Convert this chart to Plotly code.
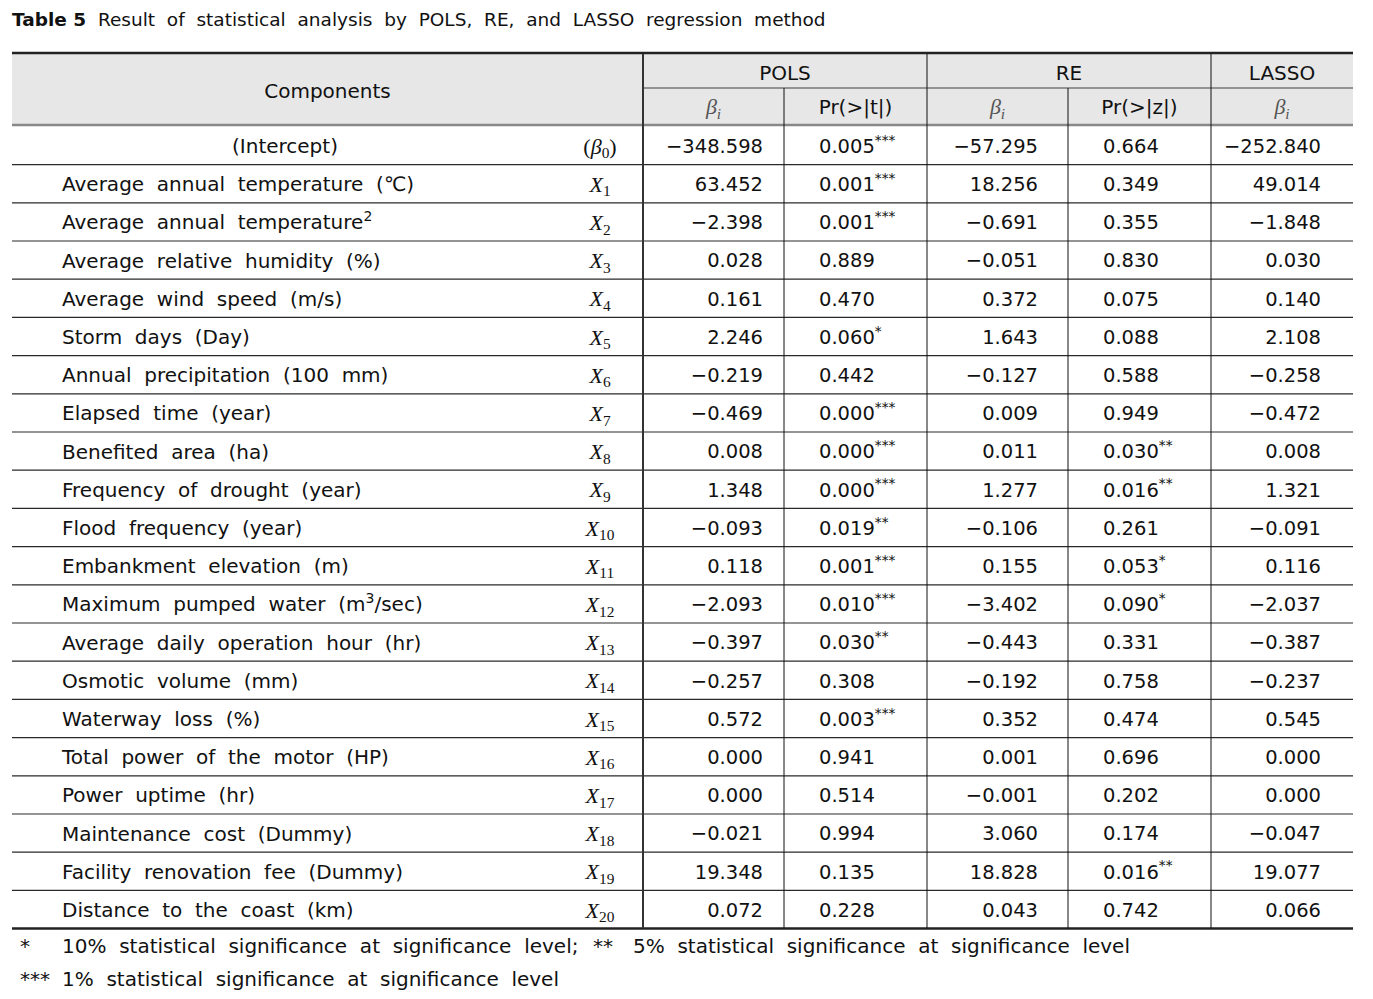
import plotly.graph_objects as go

# ---------------- data ----------------
title_bold = "Table 5"
title_rest = "Result of statistical analysis by POLS, RE, and LASSO regression method"

components = [
    "(Intercept)",
    "Average annual temperature (℃)",
    "Average annual temperature<sup>2</sup>",
    "Average relative humidity (%)",
    "Average wind speed (m/s)",
    "Storm days (Day)",
    "Annual precipitation (100 mm)",
    "Elapsed time (year)",
    "Benefited area (ha)",
    "Frequency of drought (year)",
    "Flood frequency (year)",
    "Embankment elevation (m)",
    "Maximum pumped water (m<sup>3</sup>/sec)",
    "Average daily operation hour (hr)",
    "Osmotic volume (mm)",
    "Waterway loss (%)",
    "Total power of the motor (HP)",
    "Power uptime (hr)",
    "Maintenance cost (Dummy)",
    "Facility renovation fee (Dummy)",
    "Distance to the coast (km)",
]
symbol_base = ["β"] + ["X"] * 20
symbol_sub = [str(i) for i in range(0, 21)]

pols_beta = [-348.598, 63.452, -2.398, 0.028, 0.161, 2.246, -0.219, -0.469, 0.008, 1.348,
             -0.093, 0.118, -2.093, -0.397, -0.257, 0.572, 0.000, 0.000, -0.021, 19.348, 0.072]
pols_p = [0.005, 0.001, 0.001, 0.889, 0.470, 0.060, 0.442, 0.000, 0.000, 0.000,
          0.019, 0.001, 0.010, 0.030, 0.308, 0.003, 0.941, 0.514, 0.994, 0.135, 0.228]
pols_sig = ["***", "***", "***", "", "", "*", "", "***", "***", "***",
            "**", "***", "***", "**", "", "***", "", "", "", "", ""]
re_beta = [-57.295, 18.256, -0.691, -0.051, 0.372, 1.643, -0.127, 0.009, 0.011, 1.277,
           -0.106, 0.155, -3.402, -0.443, -0.192, 0.352, 0.001, -0.001, 3.060, 18.828, 0.043]
re_p = [0.664, 0.349, 0.355, 0.830, 0.075, 0.088, 0.588, 0.949, 0.030, 0.016,
        0.261, 0.053, 0.090, 0.331, 0.758, 0.474, 0.696, 0.202, 0.174, 0.016, 0.742]
re_sig = ["", "", "", "", "", "", "", "", "**", "**",
          "", "*", "*", "", "", "", "", "", "", "**", ""]
lasso_beta = [-252.840, 49.014, -1.848, 0.030, 0.140, 2.108, -0.258, -0.472, 0.008, 1.321,
              -0.091, 0.116, -2.037, -0.387, -0.237, 0.545, 0.000, 0.000, -0.047, 19.077, 0.066]

group_headers = ["POLS", "RE", "LASSO"]
sub_headers = ["<i>β</i><sub><i>i</i></sub>", "Pr(>|t|)", "<i>β</i><sub><i>i</i></sub>",
               "Pr(>|z|)", "<i>β</i><sub><i>i</i></sub>"]
footnote_marks = ["*", "**", "***"]
footnote_texts = ["10% statistical significance at significance level;",
                  "5% statistical significance at significance level",
                  "1% statistical significance at significance level"]

# ---------------- layout constants ----------------
W, H = 1373, 999
SANS = "DejaVu Sans"
SERIF = "Liberation Serif"
FS = 20
FS_NUM = 19.5
INK = "#111111"
DY = 2.5  # text baseline nudge

X_L, X_C, X_P2, X_R, X_R2, X_LA, X_E = 12, 643, 784, 927, 1068, 1211, 1353
Y_TOP, Y_SUB, Y_HEAD_END = 53, 88, 125
Y0, PITCH = 145.5, 38.2
n = len(components)
row_y = [Y0 + i * PITCH for i in range(n)]
text_y = [y + DY for y in row_y]
Y_BOT = Y0 + (n - 0.5) * PITCH


def fmt(v):
    return f"{v:.3f}".replace("-", "−")


def wide(s):
    # typeset-style wide word spacing
    return s.replace(" ", "\u00a0 ")


fig = go.Figure()


def add_text(xs, ys, texts, pos, family=SANS, size=FS, color=INK):
    fig.add_trace(go.Scatter(
        x=xs, y=ys, text=texts, mode="text", textposition=pos,
        textfont=dict(family=family, size=size, color=color),
        hoverinfo="skip", showlegend=False, cliponaxis=False))


# header background
fig.add_shape(type="rect", x0=X_L, x1=X_E, y0=Y_TOP + 1, y1=Y_HEAD_END,
              fillcolor="#e7e7e7", line_width=0, layer="below")

# horizontal rules
fig.add_shape(type="line", x0=X_L, x1=X_E, y0=Y_TOP, y1=Y_TOP, line=dict(color="#222", width=2.5))
fig.add_shape(type="line", x0=X_C, x1=X_E, y0=Y_SUB, y1=Y_SUB, line=dict(color="#777", width=1.5))
fig.add_shape(type="line", x0=X_L, x1=X_E, y0=Y_HEAD_END, y1=Y_HEAD_END, line=dict(color="#888", width=2.5))
for i in range(n - 1):
    yy = row_y[i] + PITCH / 2
    fig.add_shape(type="line", x0=X_L, x1=X_E, y0=yy, y1=yy, line=dict(color="#2a2a2a", width=1.2))
fig.add_shape(type="line", x0=X_L, x1=X_E, y0=Y_BOT, y1=Y_BOT, line=dict(color="#222", width=2.5))

# vertical rules
fig.add_shape(type="line", x0=X_C, x1=X_C, y0=Y_TOP + 1, y1=Y_BOT, line=dict(color="#333", width=2))
for xx in (X_R, X_LA):
    fig.add_shape(type="line", x0=xx, x1=xx, y0=Y_TOP + 1, y1=Y_BOT, line=dict(color="#111", width=1))
for xx in (X_P2, X_R2):
    fig.add_shape(type="line", x0=xx, x1=xx, y0=Y_SUB, y1=Y_BOT, line=dict(color="#111", width=1))

# title
add_text([X_L], [19 + DY - 0.5], [f"<b>{title_bold}</b>\u00a0 {wide(title_rest)}"], "middle right", size=18.5)

# header texts
add_text([(X_L + X_C) / 2], [(Y_TOP + Y_HEAD_END) / 2 + 1 + DY], ["Components"], "middle center")
add_text([(X_C + X_R) / 2, (X_R + X_LA) / 2, (X_LA + X_E) / 2], [72 + DY] * 3, group_headers, "middle center")
sub_x = [(X_C + X_P2) / 2, (X_P2 + X_R) / 2, (X_R + X_R2) / 2, (X_R2 + X_LA) / 2, (X_LA + X_E) / 2]
beta_idx = [0, 2, 4]
pr_idx = [1, 3]
add_text([sub_x[i] for i in beta_idx], [106 + DY] * 3, [sub_headers[i] for i in beta_idx], "middle center",
         family=SERIF, size=22, color="#555")
add_text([sub_x[i] for i in pr_idx], [106 + DY] * 2, [sub_headers[i] for i in pr_idx], "middle center")

# component labels
add_text([285], [text_y[0]], [components[0]], "middle center")
add_text([62] * (n - 1), text_y[1:], [wide(c) for c in components[1:]], "middle right")

# symbols
sym_txt = [f"<i>{b}</i><sub>{s}</sub>" for b, s in zip(symbol_base, symbol_sub)]
sym_txt[0] = "(" + sym_txt[0] + ")"
add_text([600] * n, text_y, sym_txt, "middle center", family=SERIF, size=22)

# numeric columns
add_text([763] * n, text_y, [fmt(v) for v in pols_beta], "middle left", size=FS_NUM)
add_text([819] * n, text_y, [fmt(v) + (f"<sup>{s}</sup>" if s else "") for v, s in zip(pols_p, pols_sig)],
         "middle right", size=FS_NUM)
add_text([1038] * n, text_y, [fmt(v) for v in re_beta], "middle left", size=FS_NUM)
add_text([1103] * n, text_y, [fmt(v) + (f"<sup>{s}</sup>" if s else "") for v, s in zip(re_p, re_sig)],
         "middle right", size=FS_NUM)
add_text([1321] * n, text_y, [fmt(v) for v in lasso_beta], "middle left", size=FS_NUM)

# footnotes
add_text([20, 593, 20], [945 + DY, 945 + DY, 978 + DY], footnote_marks, "middle right")
add_text([62, 633, 62], [945 + DY, 945 + DY, 978 + DY], [wide(t) for t in footnote_texts], "middle right")

fig.update_layout(
    width=W, height=H, margin=dict(l=0, r=0, t=0, b=0),
    paper_bgcolor="white", plot_bgcolor="white",
    xaxis=dict(range=[0, W], visible=False, fixedrange=True),
    yaxis=dict(range=[H, 0], visible=False, fixedrange=True),
)

fig.write_html("out.html", config={"displayModeBar": False},
               post_script="document.body.style.margin='0';")
